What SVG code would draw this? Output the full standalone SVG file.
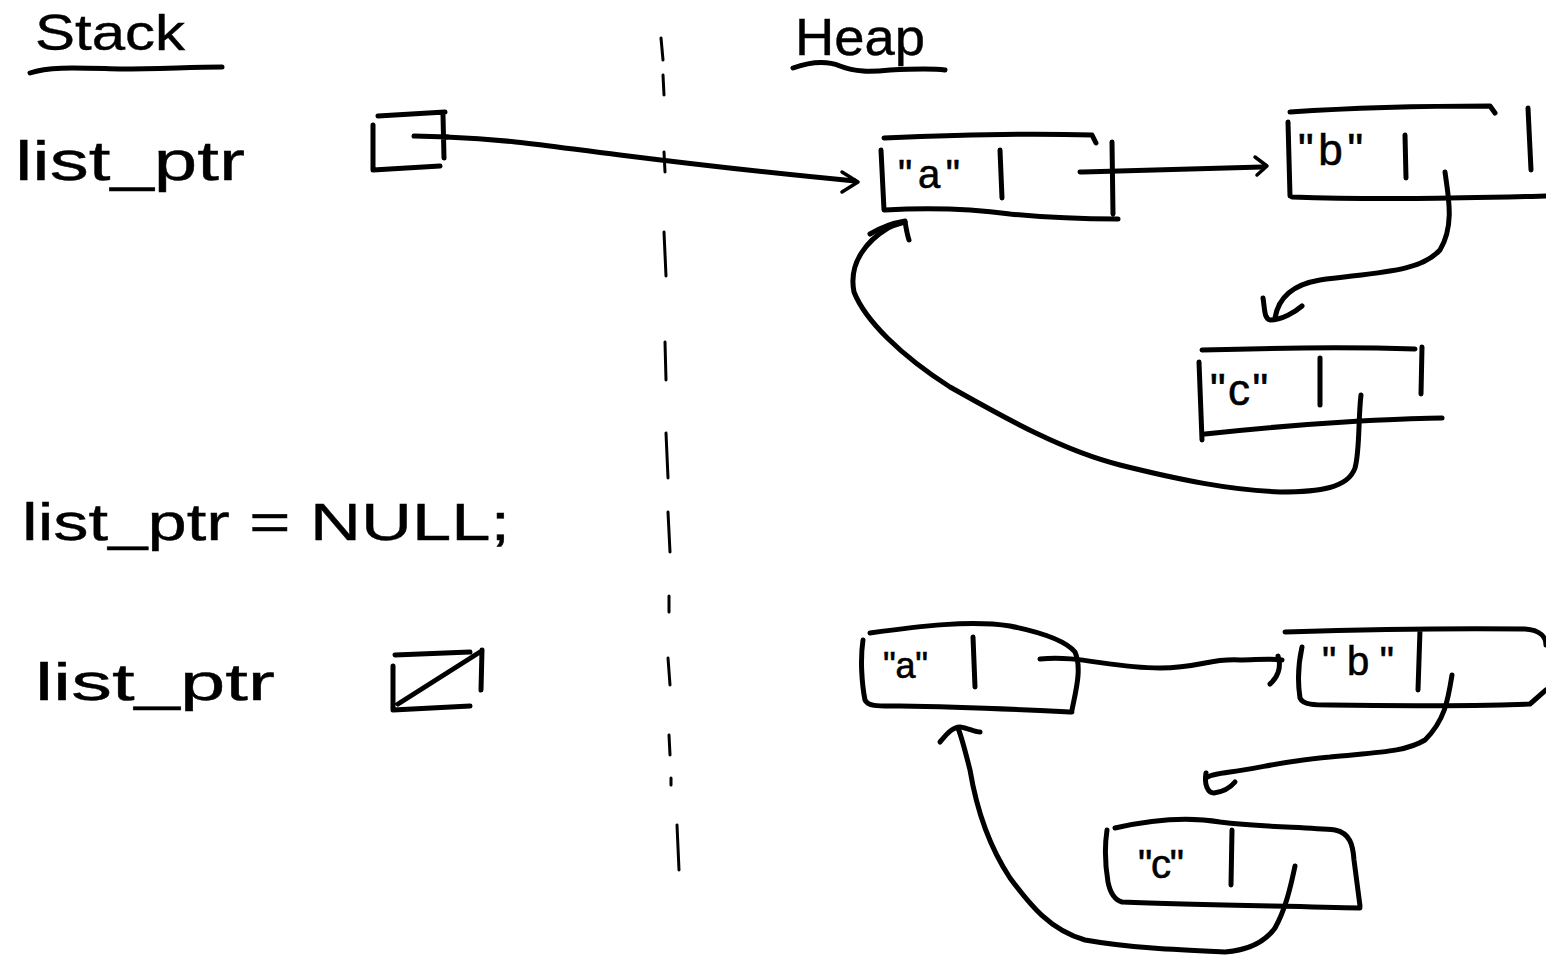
<svg xmlns="http://www.w3.org/2000/svg" width="1546" height="959" viewBox="0 0 1546 959">
<style>
.ink{fill:none;stroke:#000;stroke-width:5;stroke-linecap:round;stroke-linejoin:round}
.thin{fill:none;stroke:#000;stroke-width:3.5;stroke-linecap:round;stroke-linejoin:round}
.dash{fill:none;stroke:#000;stroke-width:3;stroke-linecap:round}
.hand{font-family:"Liberation Sans","DejaVu Sans",sans-serif;fill:#000;stroke:#000;stroke-width:0.4}
.lbl{font-family:"Liberation Sans","DejaVu Sans",sans-serif;fill:#000;stroke:#000;stroke-width:0.6}
</style>
<rect width="1546" height="959" fill="#fff"/>

<g id="stack-title">
<text class="hand" x="35" y="50" font-size="50" textLength="150" lengthAdjust="spacingAndGlyphs">Stack</text>
<path class="ink" d="M30,73 C50,66 80,68 120,69 C160,69 190,67 222,67"/>
</g>
<g id="heap-title">
<text class="hand" x="795" y="55" font-size="52" textLength="130" lengthAdjust="spacingAndGlyphs">Heap</text>
<path class="ink" d="M793,68 C810,62 825,60 840,66 C855,72 870,72 890,70 C910,69 930,68 945,70"/>
</g>

<g id="divider">
<path class="dash" d="M661,38 L663,60 M663,75 L664,95 M664,152 L665,172 M664,232 L666,276 M665,342 L666,380 M666,433 L668,478 M668,512 L670,552 M669,596 L669,612 M668,658 L670,685 M669,735 L670,755 M671,778 L671,785 M677,825 L679,870"/>
</g>

<g id="label-list-ptr-1">
<text class="hand" x="15" y="180" font-size="56" textLength="230" lengthAdjust="spacingAndGlyphs">list_ptr</text>
</g>
<g id="label-null-assign">
<text class="hand" x="22" y="540" font-size="52" textLength="488" lengthAdjust="spacingAndGlyphs">list_ptr = NULL;</text>
</g>
<g id="label-list-ptr-2">
<text class="hand" x="35" y="700" font-size="52" textLength="240" lengthAdjust="spacingAndGlyphs">list_ptr</text>
</g>

<g id="stack-box-1">
<path class="ink" d="M378,116 L445,112 M373,125 L373,170 M373,170 L440,166 M443,115 L444,158 M414,136 L448,137"/>
</g>

<g id="stack-box-null">
<path class="ink" d="M395,655 L470,652 M482,650 L481,690 M393,666 L393,710 L470,706 M398,704 L480,652"/>
</g>

<g id="node-a-1">
<path class="ink" d="M884,138 C950,135 1030,133 1092,135 L1096,143 M881,150 L884,210 M885,210 C940,207 980,210 1010,214 C1050,218 1090,219 1118,219 M1000,150 L1002,198 M1112,142 L1113,214"/>
<text class="lbl" x="898" y="188" font-size="40" textLength="62" lengthAdjust="spacing">"a"</text>
</g>

<g id="node-b-1">
<path class="ink" d="M1290,112 C1350,108 1430,106 1490,106 L1495,113 M1288,122 L1290,196 M1292,197 C1380,200 1460,198 1546,196 M1405,135 L1406,178 M1528,108 L1531,170"/>
<text class="lbl" x="1298" y="165" font-size="44" textLength="65" lengthAdjust="spacing">"b"</text>
</g>

<g id="node-c-1">
<path class="ink" d="M1202,350 C1270,348 1350,347 1415,349 M1199,362 L1202,440 M1205,434 C1260,428 1310,424 1360,421 C1400,419 1425,418 1442,418 M1320,358 L1320,405 M1422,347 L1421,394"/>
<text class="lbl" x="1210" y="405" font-size="44" textLength="58" lengthAdjust="spacing">"c"</text>
</g>

<g id="node-a-2">
<path class="ink" d="M870,633 C920,626 970,620 1010,626 C1040,632 1065,640 1075,652 C1082,668 1076,690 1072,710 M863,640 C860,660 862,685 865,700 C868,707 880,706 900,706 C970,707 1030,710 1072,712 M973,637 L975,687"/>
<text class="lbl" x="883" y="678" font-size="36" textLength="45" lengthAdjust="spacing">"a"</text>
</g>

<g id="node-b-2">
<path class="ink" d="M1285,632 C1350,630 1450,628 1525,629 C1540,630 1546,637 1546,645 M1302,647 C1298,665 1298,685 1300,698 C1303,705 1315,705 1330,705 C1400,706 1470,706 1530,704 L1546,690 M1420,630 L1418,690"/>
<text class="lbl" x="1322" y="675" font-size="40" textLength="72" lengthAdjust="spacing">"b"</text>
</g>

<g id="node-c-2">
<path class="ink" d="M1115,828 C1150,820 1185,816 1220,822 C1260,827 1300,827 1335,830 C1350,833 1353,845 1354,860 L1360,906 M1107,830 C1104,850 1106,870 1108,882 C1110,892 1115,900 1122,902 C1200,905 1290,906 1360,908 M1232,830 L1231,885"/>
<text class="lbl" x="1138" y="878" font-size="40" textLength="46" lengthAdjust="spacing">"c"</text>
</g>

<g id="connectors">
<path class="ink" d="M446,137 C520,140 560,148 620,155 C700,165 780,174 855,181"/>
<path class="thin" d="M842,172 L858,182 L842,192"/>
<path class="ink" d="M1080,172 C1140,170 1200,169 1262,167"/>
<path class="thin" d="M1255,157 L1267,166 L1257,175"/>
<path class="ink" d="M1445,172 C1448,195 1455,225 1440,250 C1420,272 1380,272 1320,280 C1290,285 1278,300 1275,318"/>
<path class="ink" d="M1263,298 C1265,310 1264,318 1270,320 C1282,320 1295,312 1302,306"/>
<path class="ink" d="M1361,395 C1358,420 1360,450 1355,468 C1348,488 1320,492 1280,492 C1230,490 1180,480 1120,465 C1060,450 1000,415 950,387 C900,355 865,320 854,292 C848,262 868,240 888,228 C896,224 902,223 905,222"/>
<path class="ink" d="M870,234 C880,228 893,223 905,221 C906,228 907,234 909,240"/>
<path class="ink" d="M1040,659 C1080,655 1110,668 1160,668 C1200,668 1210,658 1240,660 C1255,660 1270,658 1282,660"/>
<path class="ink" d="M1278,656 C1282,668 1277,678 1270,684"/>
<path class="ink" d="M1452,675 C1448,700 1445,720 1425,740 C1405,752 1380,752 1330,757 C1290,760 1260,768 1230,772 C1215,774 1208,776 1206,778"/>
<path class="ink" d="M1206,773 C1204,785 1208,793 1214,793 C1222,792 1230,788 1235,782"/>
<path class="ink" d="M1295,866 C1290,890 1285,910 1275,928 C1265,942 1250,950 1225,952 C1180,950 1130,948 1085,940 C1050,930 1030,905 1010,878 C985,840 975,800 970,770 C965,750 962,738 958,728"/>
<path class="ink" d="M940,742 C946,735 952,727 960,727 C968,728 975,732 980,732"/>
</g>
</svg>
